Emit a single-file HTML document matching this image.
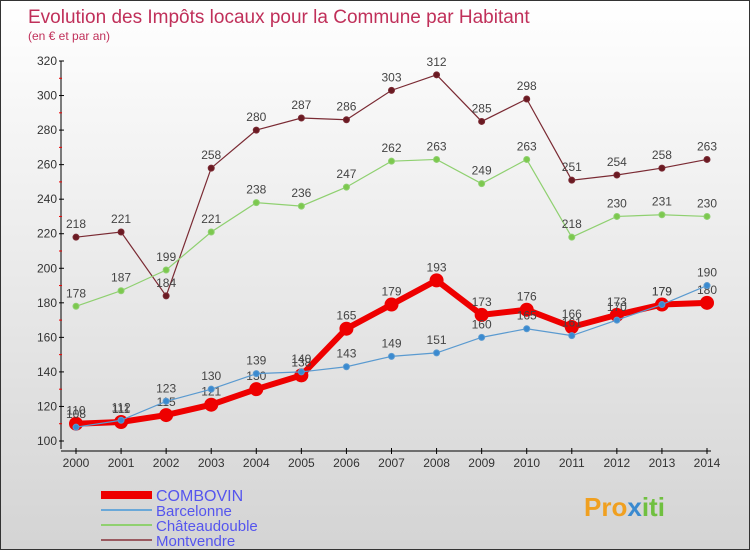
<!DOCTYPE html>
<html><head><meta charset="utf-8"><style>
body{margin:0}
#c{width:748px;height:548px;border:1px solid #333;background:linear-gradient(#fff,#d4d4d4);position:relative;font-family:"Liberation Sans",sans-serif;overflow:hidden}
</style></head><body>
<div id="c">
<svg id="s" width="748" height="548"></svg>
</div>
<script>
const years=[2000,2001,2002,2003,2004,2005,2006,2007,2008,2009,2010,2011,2012,2013,2014];
const montvendre=[218,221,184,258,280,287,286,303,312,285,298,251,254,258,263];
const chateaudouble=[178,187,199,221,238,236,247,262,263,249,263,218,230,231,230];
const barcelonne=[108,112,123,130,139,140,143,149,151,160,165,161,170,179,190];
const combovin=[110,111,115,121,130,138,165,179,193,173,176,166,173,179,180];
const yTicks=[100,120,140,160,180,200,220,240,260,280,300,320];
const NS='http://www.w3.org/2000/svg';
const s=document.getElementById('s');
function X(i){return 75+i*(706-75)/14;}
function Y(v){return 440-(v-100)*380/220;}
function el(t,a,p){const e=document.createElementNS(NS,t);for(const k in a)e.setAttribute(k,a[k]);(p||s).appendChild(e);return e;}
let t=el('text',{x:27,y:22,'font-size':19,fill:'#c0305a'});t.textContent='Evolution des Impôts locaux pour la Commune par Habitant';

t=el('text',{x:27,y:39,'font-size':12,fill:'#c0305a'});t.textContent='(en € et par an)';

let ax=el('line',{x1:60,y1:60,x2:60,y2:448,stroke:'#000'});

ax=el('line',{x1:60,y1:450,x2:710,y2:450,stroke:'#000'});

yTicks.forEach(v=>{el('line',{x1:58,y1:Y(v),x2:63,y2:Y(v),stroke:'#000'});
 if(v<320)el('line',{x1:58,y1:Y(v+10),x2:61,y2:Y(v+10),stroke:'#e00'});
 const l=el('text',{x:56,y:Y(v)+4,'font-size':12,fill:'#333','text-anchor':'end'});l.textContent=v;
 });
years.forEach((y,i)=>{el('line',{x1:X(i),y1:447,x2:X(i),y2:453,stroke:'#000'});
 const l=el('text',{x:X(i),y:466,'font-size':12,fill:'#333','text-anchor':'middle'});l.textContent=y;
 });
function series(d,col,dot,w,r,name){
 const g=el('g',{});
 el('polyline',{points:d.map((v,i)=>X(i)+','+Y(v)).join(' '),fill:'none',stroke:col,'stroke-width':w},g);
 d.forEach((v,i)=>{const c=el('circle',{cx:X(i),cy:Y(v),r:r,fill:dot,stroke:col,'stroke-width':1},g);
  
  const l=el('text',{x:X(i),y:Y(v)-9,'font-size':12,fill:'#444','text-anchor':'middle'},g);l.textContent=v;
  });
}
series(montvendre,'#7a2a33','#6a1a22',1.2,3,'montvendre');
series(chateaudouble,'#8fd070','#7cc84e',1.2,3,'chateaudouble');
series(combovin,'#ee0000','#ee0000',6,6.5,'combovin');
series(barcelonne,'#5a9ad0','#3a8ad0',1.2,3,'barcelonne');
const leg=[['COMBOVIN','#ee0000',8],['Barcelonne','#6aa8d8',2],['Châteaudouble','#90d070',2],['Montvendre','#9a5a60',2]];
leg.forEach((e,i)=>{const y=494+i*15;
 const g=el('g',{});
 el('line',{x1:100,y1:y,x2:151,y2:y,stroke:e[1],'stroke-width':e[2]},g);
 const l=el('text',{x:155,y:y+6,'font-size':i==0?16:15,fill:'#5555ee'},g);l.textContent=e[0];});
const p=el('text',{x:583,y:515,'font-size':26,'font-weight':'bold',fill:'#3a8ad0'});
p.innerHTML='<tspan fill="#f0a020">Pro</tspan><tspan fill="#3a8ad0">x</tspan><tspan fill="#70c040">iti</tspan>';

</script>
</body></html>
